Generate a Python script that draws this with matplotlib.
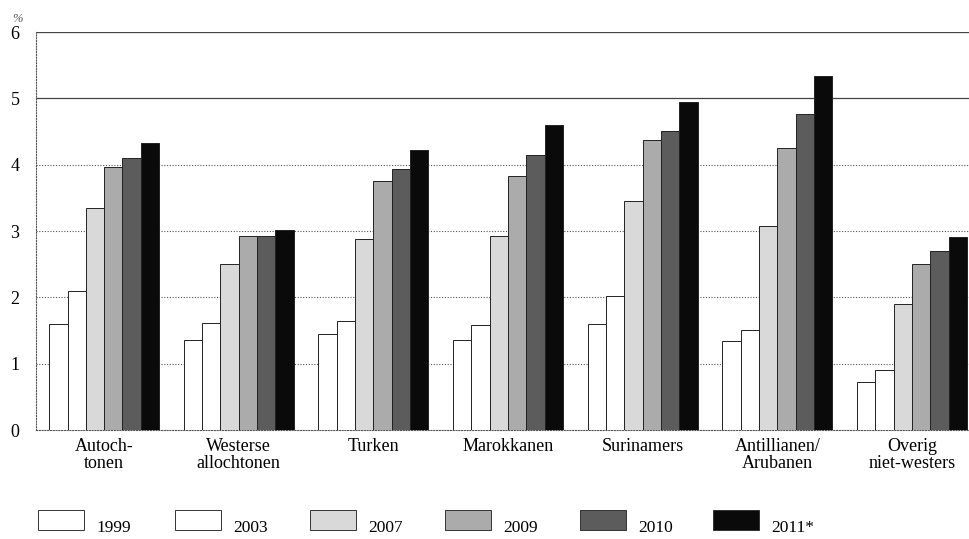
import matplotlib.pyplot as plt
import matplotlib.patches as mpatches
import numpy as np

# data (percentages)
categories = ["Autoch-\ntonen", "Westerse\nallochtonen", "Turken", "Marokkanen",
              "Surinamers", "Antillianen/\nArubanen", "Overig\nniet-westers"]
years = ["1999", "2003", "2007", "2009", "2010", "2011*"]
v1999 = [1.60, 1.35, 1.44, 1.35, 1.60, 1.34, 0.72]
v2003 = [2.09, 1.62, 1.65, 1.59, 2.02, 1.51, 0.90]
v2007 = [3.35, 2.50, 2.88, 2.93, 3.46, 3.08, 1.90]
v2009 = [3.96, 2.92, 3.75, 3.83, 4.37, 4.25, 2.51]
v2010 = [4.10, 2.92, 3.94, 4.14, 4.51, 4.77, 2.70]
v2011 = [4.32, 3.01, 4.22, 4.60, 4.95, 5.33, 2.91]
series = [v1999, v2003, v2007, v2009, v2010, v2011]
colors = ["white", "white", "#d9d9d9", "#ababab", "#5c5c5c", "#0a0a0a"]

plt.rcParams['font.family'] = ['Liberation Serif', 'DejaVu Serif']

fig = plt.figure(figsize=(9.69, 5.39), dpi=100)
ax = fig.add_axes([0.0372, 0.2022, 0.9628, 0.7384])

x = np.arange(len(categories))
w = 0.136
for k, vals in enumerate(series):
    ax.bar(x + (k - 2.5) * w, vals, width=w, color=colors[k],
           edgecolor="#222222", linewidth=0.7, zorder=3)

ax.set_xlim(-0.506, 6.424)
ax.set_ylim(0, 6)

# grid: dotted for lower lines, solid for 5 and 6
for yv in [1, 2, 3, 4]:
    ax.axhline(yv, color="#555555", linestyle=(0, (1, 1.5)), linewidth=0.8, zorder=1)
for yv in [5, 6]:
    ax.axhline(yv, color="#444444", linestyle="-", linewidth=0.9, zorder=1)

for s in ["top", "right"]:
    ax.spines[s].set_visible(False)
ax.spines["left"].set_linestyle((0, (1, 1.5)))
ax.spines["left"].set_color("#555555")
ax.spines["bottom"].set_linestyle((0, (1, 1.5)))
ax.spines["bottom"].set_color("#555555")

ax.set_yticks(range(0, 7))
ax.tick_params(axis="y", length=0, labelsize=13, pad=12)
ax.set_xticks(x)
ax.set_xticklabels(categories, fontsize=13, linespacing=0.95)
ax.tick_params(axis="x", length=0, pad=6)

fig.text(0.013, 0.975, "%", fontsize=9, color="#555555", va="top", style="italic")

# legend drawn by hand to match the spacing of the original
box_x = [38, 175, 310, 445, 580, 713]
for k, yr in enumerate(years):
    bx = box_x[k] / 969
    fig.add_artist(mpatches.Rectangle((bx, 1 - 530 / 539), 46 / 969, 20 / 539,
                                      transform=fig.transFigure, facecolor=colors[k],
                                      edgecolor="#333333", linewidth=0.7))
    fig.text(bx + 58 / 969, 1 - 532 / 539, yr, fontsize=12.5, va="baseline")

fig.savefig("out.png", dpi=100)
